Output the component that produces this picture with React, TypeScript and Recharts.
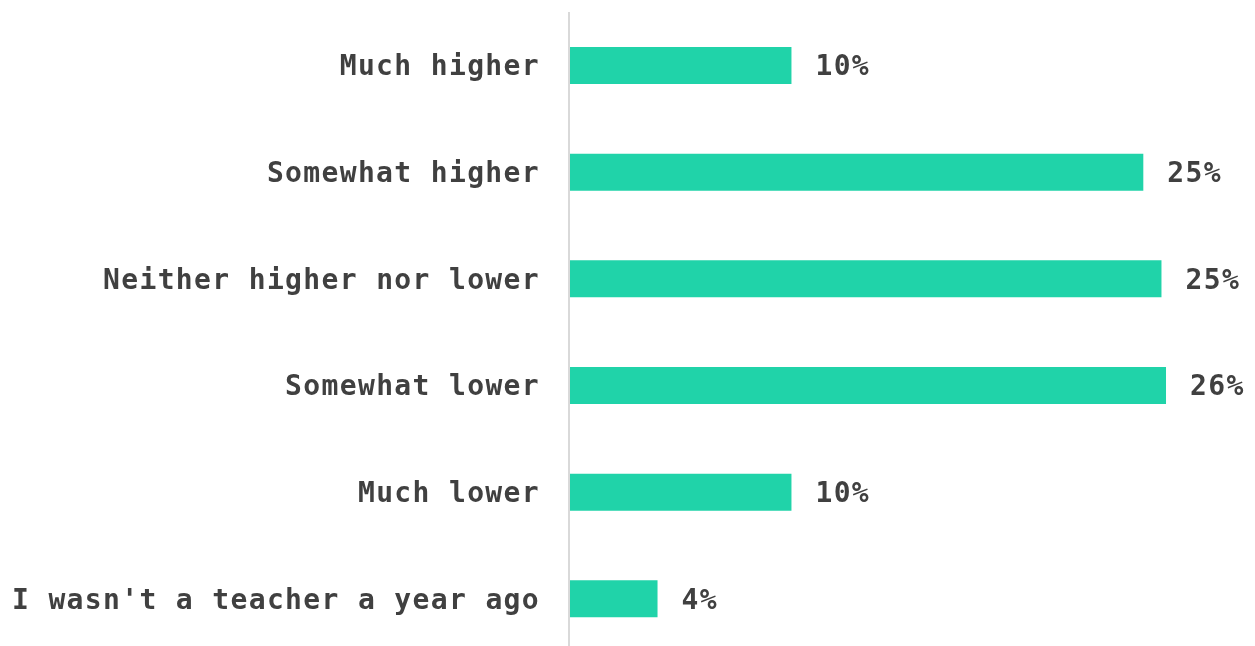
import { BarChart, Bar, XAxis, YAxis, LabelList } from "recharts";

const categories = [
  "Much higher",
  "Somewhat higher",
  "Neither higher nor lower",
  "Somewhat lower",
  "Much lower",
  "I wasn't a teacher a year ago",
];
const values = [9.8, 25.3, 26.1, 26.3, 9.8, 3.9];
const valueLabels = ["10%", "25%", "25%", "26%", "10%", "4%"];

const data = categories.map((name, i) => ({ name, value: values[i], label: valueLabels[i] }));

const FONT = "'DejaVu Sans Mono', monospace";
const TEXT = "#404040";

export default function App() {
  return (
    <div style={{ position: "fixed", left: 0, top: 0, width: 1255, height: 646, background: "#fff" }}>
      <BarChart
        width={1255}
        height={652}
        data={data}
        layout="vertical"
        margin={{ top: 12, right: 5, bottom: 0, left: 0 }}
        barCategoryGap={35}
      >
        <XAxis type="number" domain={[0, 30]} hide />
        <YAxis
          type="category"
          dataKey="name"
          width={569}
          tickSize={0}
          tickMargin={29}
          axisLine={{ stroke: "#d9d9d9", strokeWidth: 2 }}
          tickLine={false}
          tick={{ fontSize: 28, fontFamily: FONT, fontWeight: "bold", fill: TEXT, letterSpacing: 1.35 }}
        />
        <Bar dataKey="value" fill="#20d3a9" barSize={37} isAnimationActive={false}>
          <LabelList
            dataKey="label"
            position="right"
            offset={24}
            style={{ fontSize: 28, fontFamily: FONT, fontWeight: "bold", fill: TEXT, letterSpacing: 1.35 }}
          />
        </Bar>
      </BarChart>
    </div>
  );
}
